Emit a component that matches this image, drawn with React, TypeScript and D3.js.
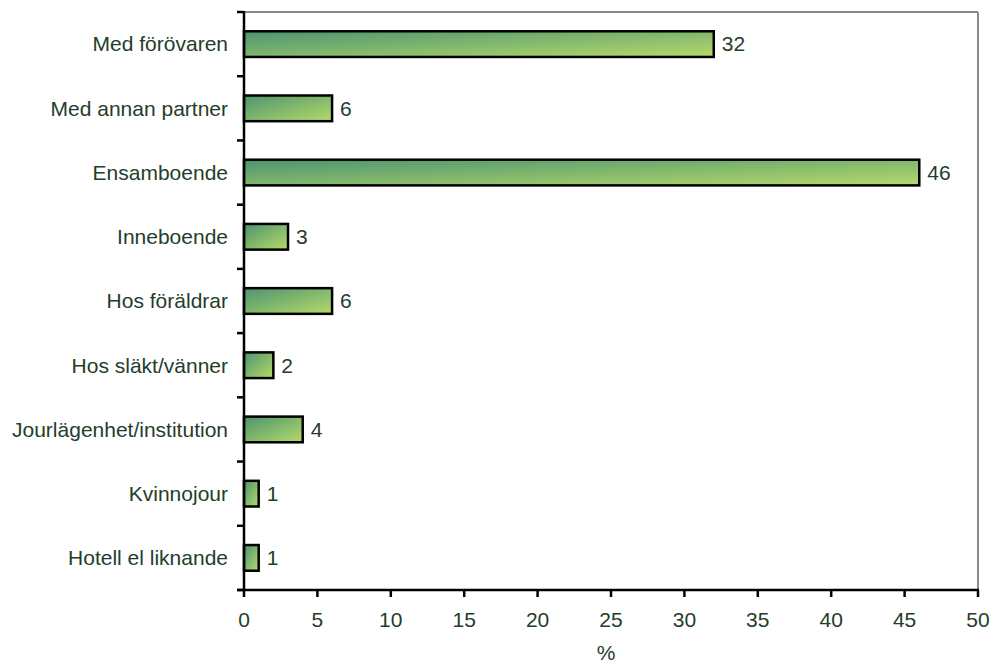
import React from "react";
import * as d3 from "d3";

const categories = [
  "Med förövaren",
  "Med annan partner",
  "Ensamboende",
  "Inneboende",
  "Hos föräldrar",
  "Hos släkt/vänner",
  "Jourlägenhet/institution",
  "Kvinnojour",
  "Hotell el liknande",
];
const values = [32, 6, 46, 3, 6, 2, 4, 1, 1];
const xTicks = [0, 5, 10, 15, 20, 25, 30, 35, 40, 45, 50];
const xLabel = "%";

export default function App() {
  const width = 992;
  const height = 664;
  const left = 244;
  const right = 978;
  const top = 12;
  const bottom = 590;
  const x = d3.scaleLinear().domain([0, 50]).range([left, right]);
  const y = d3.scaleBand<string>().domain(categories).range([top, bottom]).paddingInner(0.6).paddingOuter(0.3);
  const band = (bottom - top) / categories.length;
  const textColor = "#243d2a";
  const font = "'Liberation Sans', Arial, sans-serif";
  const fs = 21;

  return (
    <svg width={width} height={height} style={{ position: "absolute", left: 0, top: 0, background: "#fff" }} fontFamily={font}>
      <defs>
        <linearGradient id="barGrad" x1="0" y1="0" x2="1" y2="1" gradientUnits="objectBoundingBox">
          <stop offset="0" stopColor="#4c9470" />
          <stop offset="1" stopColor="#b6da6a" />
        </linearGradient>
      </defs>
      {/* plot frame top and right */}
      <line x1={left} x2={right} y1={top} y2={top} stroke="#8a8a8a" strokeWidth={2} />
      <line x1={right} x2={right} y1={top} y2={bottom} stroke="#8a8a8a" strokeWidth={2} />
      {/* bars */}
      {categories.map((c, i) => {
        const y0 = y(c)!;
        const h = y.bandwidth();
        return (
          <g key={c}>
            <rect x={x(0)} y={y0} width={x(values[i]) - x(0)} height={h} fill="url(#barGrad)" stroke="#000" strokeWidth={2.5} />
            <text x={x(values[i]) + 8} y={y0 + h / 2} dy="0.35em" fontSize={fs} fill={textColor}>
              {values[i]}
            </text>
            <text x={left - 16} y={y0 + h / 2} dy="0.35em" fontSize={fs} fill={textColor} textAnchor="end">
              {c}
            </text>
          </g>
        );
      })}
      {/* y axis */}
      <line x1={left} x2={left} y1={top - 1} y2={bottom} stroke="#000" strokeWidth={2.5} />
      {d3.range(categories.length + 1).map((i) => (
        <line key={"yt" + i} x1={left - 7} x2={left} y1={top + i * band} y2={top + i * band} stroke="#000" strokeWidth={2.5} />
      ))}
      {/* x axis */}
      <line x1={left - 7} x2={right + 1} y1={bottom} y2={bottom} stroke="#000" strokeWidth={2.5} />
      {xTicks.map((t) => (
        <g key={"xt" + t}>
          <line x1={x(t)} x2={x(t)} y1={bottom} y2={bottom + 7} stroke="#000" strokeWidth={2.5} />
          <text x={x(t)} y={620} dy="0.35em" textAnchor="middle" fontSize={fs} fill={textColor}>
            {t}
          </text>
        </g>
      ))}
      <text x={(left + right) / 2 - 5} y={653} dy="0.35em" textAnchor="middle" fontSize={fs} fill={textColor}>
        {xLabel}
      </text>
    </svg>
  );
}
